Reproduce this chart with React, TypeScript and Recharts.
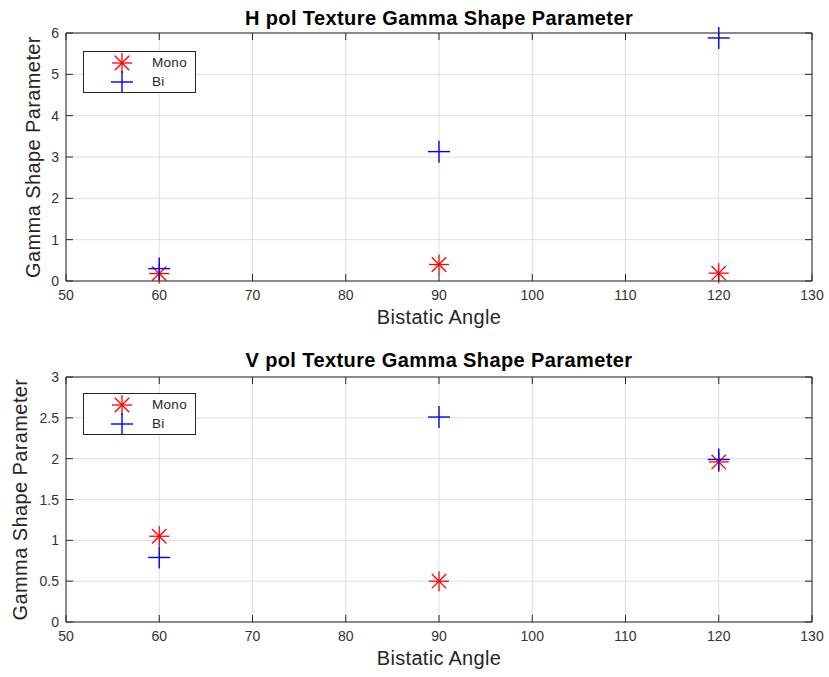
import React from "react";
import { ScatterChart, Scatter, XAxis, YAxis, CartesianGrid, Legend } from "recharts";

// bistatic angles (deg)
const angles = [60, 90, 120];

// H pol texture gamma shape parameter
const hMono = [0.18, 0.4, 0.19];
const hBi = [0.3, 3.13, 5.88];

// V pol texture gamma shape parameter
const vMono = [1.05, 0.5, 1.96];
const vBi = [0.79, 2.51, 1.99];

const xTicks = [50, 60, 70, 80, 90, 100, 110, 120, 130];
const hTicks = [0, 1, 2, 3, 4, 5, 6];
const vTicks = [0, 0.5, 1, 1.5, 2, 2.5, 3];

const FONT = "'Liberation Sans', Arial, Helvetica, sans-serif";
const INK = "#262626";
const RED = "#ff0000";
const BLUE = "#0000ff";

const Star = ({ cx, cy, color }: any) => {
  const r = 10;
  const d = r * 0.72;
  return (
    <g stroke={color} strokeWidth={1.3} fill="none">
      <line x1={cx - r} x2={cx + r} y1={cy} y2={cy} />
      <line x1={cx} x2={cx} y1={cy - r} y2={cy + r} />
      <line x1={cx - d} x2={cx + d} y1={cy - d} y2={cy + d} />
      <line x1={cx - d} x2={cx + d} y1={cy + d} y2={cy - d} />
    </g>
  );
};

const Plus = ({ cx, cy, color }: any) => {
  const r = 11;
  return (
    <g stroke={color} strokeWidth={1.4} fill="none">
      <line x1={cx - r} x2={cx + r} y1={cy} y2={cy} />
      <line x1={cx} x2={cx} y1={cy - r} y2={cy + r} />
    </g>
  );
};

const BottomTick = ({ x, y, payload }: any) => (
  <g>
    <line x1={x} x2={x} y1={y} y2={y - 7} stroke={INK} />
    <text x={x} y={y + 19} textAnchor="middle" fontSize={14} fill="#333" fontFamily={FONT}>
      {payload.value}
    </text>
  </g>
);

const TopTick = ({ x, y }: any) => <line x1={x} x2={x} y1={y} y2={y + 7} stroke={INK} />;

const LeftTick = ({ x, y, payload }: any) => (
  <g>
    <line x1={x} x2={x + 7} y1={y} y2={y} stroke={INK} />
    <text x={x - 7} y={y + 5} textAnchor="end" fontSize={14} fill="#333" fontFamily={FONT}>
      {payload.value}
    </text>
  </g>
);

const RightTick = ({ x, y }: any) => <line x1={x} x2={x - 7} y1={y} y2={y} stroke={INK} />;

const LegendBox = () => (
  <div
    style={{
      width: 111,
      height: 40,
      border: `1px solid ${INK}`,
      background: "#fff",
      position: "relative",
    }}
  >
    <svg width={111} height={40} style={{ position: "absolute", left: 0, top: 0 }}>
      <Star cx={38} cy={11} color={RED} />
      <Plus cx={38} cy={30} color={BLUE} />
      <text x={68} y={15} fontSize={13.5} letterSpacing={0.3} fill={INK} fontFamily={FONT}>Mono</text>
      <text x={68} y={34} fontSize={13.5} letterSpacing={0.3} fill={INK} fontFamily={FONT}>Bi</text>
    </svg>
  </div>
);

type PanelProps = {
  title: string;
  mono: number[];
  bi: number[];
  yTicks: number[];
  height: number;
  top: number;
  bottom: number;
  yLabelX: number;
  legendTop: number;
  titleDy: number;
};

const Panel = ({ title, mono, bi, yTicks, height, top, bottom, yLabelX, legendTop, titleDy }: PanelProps) => {
  const monoData = angles.map((a, i) => ({ x: a, y: mono[i] }));
  const biData = angles.map((a, i) => ({ x: a, y: bi[i] }));
  const yMax = yTicks[yTicks.length - 1];
  return (
    <ScatterChart width={829} height={height} margin={{ top: top - 1, right: 16, bottom: 0, left: 0 }}>
      <CartesianGrid stroke="#dedede" strokeWidth={1} />
      <XAxis
        type="number"
        dataKey="x"
        domain={[50, 130]}
        ticks={xTicks}
        height={bottom}
        tickSize={0}
        tickMargin={0}
        tickLine={false}
        axisLine={{ stroke: INK }}
        tick={<BottomTick />}
        label={{
          content: ({ viewBox }: any) => (
            <text
              x={viewBox.x + viewBox.width / 2}
              y={viewBox.y + 43}
              textAnchor="middle"
              fontSize={20}
              letterSpacing={0.3}
              fill={INK}
              fontFamily={FONT}
            >
              Bistatic Angle
            </text>
          ),
        }}
      />
      <XAxis
        xAxisId="top"
        orientation="top"
        type="number"
        dataKey="x"
        domain={[50, 130]}
        ticks={xTicks}
        height={1}
        tickSize={0}
        tickMargin={0}
        tickLine={false}
        axisLine={{ stroke: INK }}
        tick={<TopTick />}
        label={{
          content: ({ viewBox }: any) => (
            <text
              x={viewBox.x + viewBox.width / 2}
              y={viewBox.y + 1 - titleDy}
              textAnchor="middle"
              fontSize={20}
              letterSpacing={0.4}
              fontWeight="bold"
              fill="#000"
              fontFamily={FONT}
            >
              {title}
            </text>
          ),
        }}
      />
      <YAxis
        type="number"
        dataKey="y"
        domain={[0, yMax]}
        ticks={yTicks}
        width={66}
        tickSize={0}
        tickMargin={0}
        tickLine={false}
        axisLine={{ stroke: INK }}
        tick={<LeftTick />}
        label={{
          content: ({ viewBox }: any) => {
            const cy = viewBox.y + viewBox.height / 2;
            return (
              <text
                x={yLabelX}
                y={cy}
                transform={`rotate(-90 ${yLabelX} ${cy})`}
                textAnchor="middle"
                dominantBaseline="central"
                fontSize={20}
                letterSpacing={0.4}
                fill={INK}
                fontFamily={FONT}
              >
                Gamma Shape Parameter
              </text>
            );
          },
        }}
      />
      <YAxis
        yAxisId="right"
        orientation="right"
        type="number"
        dataKey="y"
        domain={[0, yMax]}
        ticks={yTicks}
        width={1}
        tickSize={0}
        tickMargin={0}
        tickLine={false}
        axisLine={{ stroke: INK }}
        tick={<RightTick />}
      />
      <Legend
        layout="horizontal"
        verticalAlign="middle"
        align="center"
        wrapperStyle={{ position: "absolute", left: 83, top: legendTop, width: 113, height: 42 }}
        content={() => <LegendBox />}
      />
      {/* invisible series so the top and right box axes get drawn */}
      <Scatter
        xAxisId="top"
        yAxisId="right"
        data={monoData}
        legendType="none"
        isAnimationActive={false}
        shape={() => <g />}
      />
      <Scatter
        name="Mono"
        data={monoData}
        isAnimationActive={false}
        shape={(p: any) => <Star cx={p.cx} cy={p.cy} color={RED} />}
      />
      <Scatter
        name="Bi"
        data={biData}
        isAnimationActive={false}
        shape={(p: any) => <Plus cx={p.cx} cy={p.cy} color={BLUE} />}
      />
    </ScatterChart>
  );
};

export default function App() {
  return (
    <div style={{ position: "absolute", left: 0, top: 0, width: 829, height: 677, background: "#fff" }}>
      <Panel
        title="H pol Texture Gamma Shape Parameter"
        mono={hMono}
        bi={hBi}
        yTicks={hTicks}
        height={340}
        top={33}
        bottom={59}
        yLabelX={33}
        legendTop={51}
        titleDy={8}
      />
      <Panel
        title="V pol Texture Gamma Shape Parameter"
        mono={vMono}
        bi={vBi}
        yTicks={vTicks}
        height={337}
        top={37}
        bottom={55}
        yLabelX={20}
        legendTop={53}
        titleDy={10}
      />
    </div>
  );
}
